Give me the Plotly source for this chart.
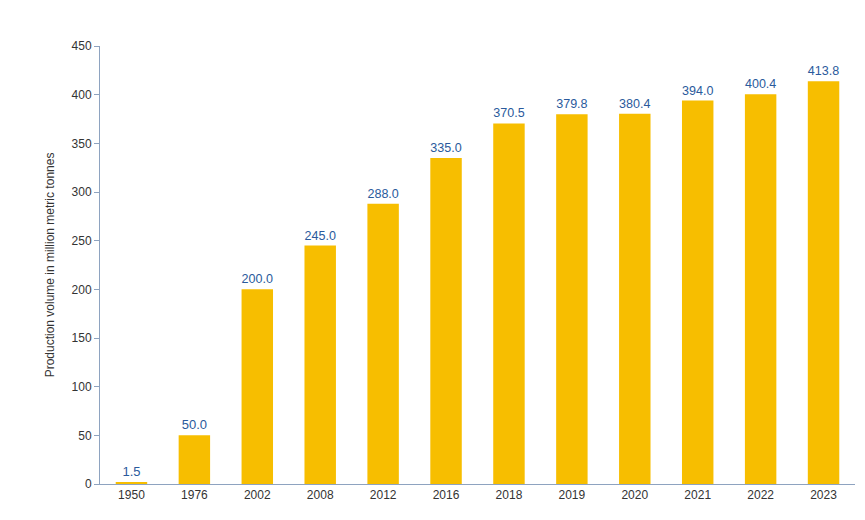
import plotly.graph_objs as go

# Data
years = ['1950', '1976', '2002', '2008', '2012', '2016', '2018', '2019', '2020', '2021', '2022', '2023']
volume = [1.5, 50.0, 200.0, 245.0, 288.0, 335.0, 370.5, 379.8, 380.4, 394.0, 400.4, 413.8]

bar = go.Bar(
    x=years, y=volume,
    marker=dict(color='#F7BE00', line=dict(width=0)),
    text=['%.1f' % v for v in volume],
    textposition='outside',
    textfont=dict(color='#2A5A9C', size=13),
    cliponaxis=False,
)

layout = go.Layout(
    width=865, height=520,
    margin=dict(l=92, r=18, t=38, b=44),
    paper_bgcolor='white', plot_bgcolor='white',
    font=dict(family='Liberation Sans, Arial, sans-serif', size=12, color='#333333'),
    bargap=0.5,
    showlegend=False,
    xaxis=dict(showgrid=False, showline=True, linecolor='#8EA3C0', linewidth=1,
               ticks='', tickfont=dict(size=12)),
    yaxis=dict(title=dict(text='Production volume in million metric tonnes', font=dict(size=12), standoff=14),
               range=[0, 450], dtick=50, showgrid=False, zeroline=False,
               showline=True, linecolor='#8EA3C0', linewidth=1,
               ticks='outside', ticklen=5, tickcolor='#8EA3C0', tickfont=dict(size=12)),
)

fig = go.Figure(data=[bar], layout=layout)
fig.write_html('out.html')
